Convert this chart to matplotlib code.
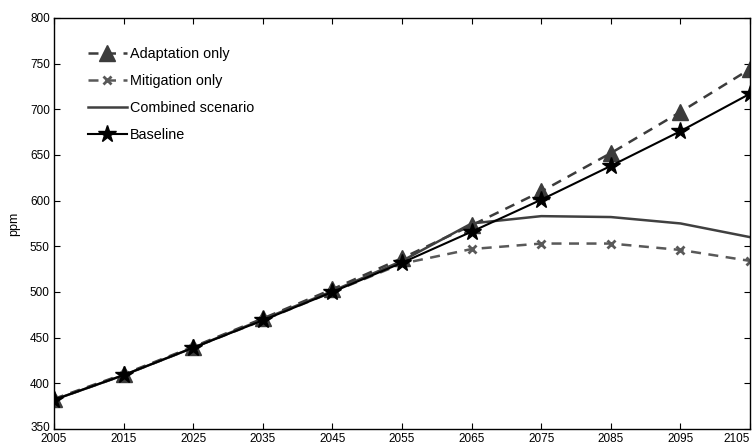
import matplotlib
matplotlib.use('Agg')
import matplotlib.pyplot as plt
import matplotlib.transforms as mtransforms

plt.rcParams['font.family'] = ['Liberation Sans', 'DejaVu Sans']

# data
years = [2005, 2015, 2025, 2035, 2045, 2055, 2065, 2075, 2085, 2095, 2105]
adaptation = [383, 410, 440, 471, 503, 537, 573, 610, 652, 697, 744]
mitigation = [382, 409, 439, 469, 500, 531, 547, 553, 553, 546, 534]
combined = [382, 409, 439, 470, 501, 534, 575, 583, 582, 575, 560]
baseline = [382, 409, 439, 469, 500, 532, 566, 601, 638, 676, 717]

fig = plt.figure(figsize=(7.55, 4.46), dpi=100)
ax = fig.add_axes([0.0715, 0.038, 0.922, 0.922])

ax.plot(years, adaptation, color='#3c3c3c', linestyle='--', linewidth=1.8,
        marker='^', markersize=12, label='Adaptation only', dashes=(4, 3))
ax.plot(years, mitigation, color='#595959', linestyle='--', linewidth=1.8,
        marker='x', markersize=6, markeredgewidth=2, label='Mitigation only', dashes=(4, 3))
ax.plot(years, combined, color='#404040', linestyle='-', linewidth=1.8,
        label='Combined scenario')
ax.plot(years, baseline, color='black', linestyle='-', linewidth=1.5,
        marker='*', markersize=13, label='Baseline')

ax.set_xlim(2005, 2105)
ax.set_ylim(350, 800)
ax.set_xticks(years)
ax.set_yticks(range(350, 801, 50))
ax.tick_params(direction='in', top=True, right=True, labelsize=8.5, length=4,
               width=0.8)
ax.tick_params(axis='x', pad=2.5)
ax.tick_params(axis='y', pad=3)
ax.get_xticklabels()[-1].set_horizontalalignment('right')
# nudge the bottom y label up a hair so it doesn't sit on top of "2005"
lab = ax.get_yticklabels()[0]
lab.set_transform(lab.get_transform() +
                  mtransforms.ScaledTranslation(0, 2 / 72, fig.dpi_scale_trans))
for s in ax.spines.values():
    s.set_linewidth(1.0)
ax.set_ylabel('ppm', fontsize=9, labelpad=7)

ax.legend(loc='upper left', bbox_to_anchor=(0.03, 0.96), frameon=False,
          fontsize=10.4, handlelength=2.7, handletextpad=0.2, labelspacing=0.9)

fig.savefig('out.png', dpi=100)
